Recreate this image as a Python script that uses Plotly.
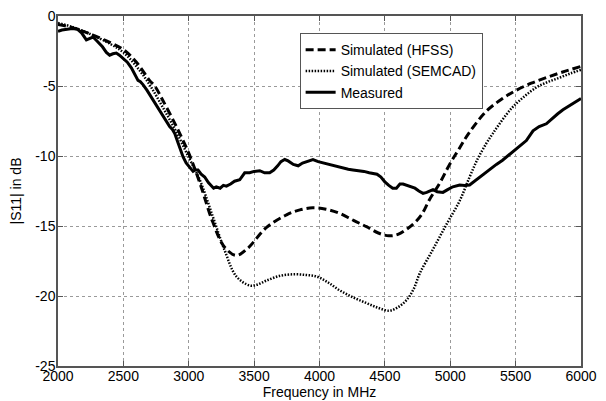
import plotly.graph_objects as go

# Simulated (HFSS)
hfss_f = [2000, 2100, 2250, 2400, 2500, 2600, 2700, 2740, 2800, 2900, 3000, 3084, 3183, 3273, 3364, 3450,
          3595, 3748, 3850, 3948, 4050, 4155, 4260, 4360, 4450, 4530, 4600, 4712, 4780, 4842, 4919, 4995,
          5060, 5140, 5276, 5400, 5506, 5620, 5735, 5860, 6000]
hfss_db = [-0.6, -0.8, -1.3, -1.9, -2.4, -3.3, -4.6, -5.0, -6.0, -7.8, -9.8, -11.9, -14.7, -16.5, -17.1, -16.6,
           -15.1, -14.2, -13.85, -13.7, -13.8, -14.1, -14.6, -15.05, -15.5, -15.7, -15.6, -14.9, -14.2, -13.1, -11.95, -10.6,
           -9.6, -8.4, -6.8, -5.9, -5.3, -4.8, -4.4, -4.0, -3.6]

# Simulated (SEMCAD)
semcad_f = [2000, 2100, 2250, 2400, 2500, 2600, 2700, 2800, 2900, 3000, 3084, 3183, 3273, 3364, 3466, 3520,
            3594, 3700, 3810, 3900, 3976, 4060, 4155, 4258, 4358, 4450, 4536, 4600, 4665, 4720, 4766, 4866,
            4970, 5072, 5148, 5210, 5276, 5325, 5400, 5478, 5560, 5659, 5750, 5837, 5920, 6000]
semcad_db = [-0.5, -0.75, -1.3, -2.0, -2.6, -3.6, -4.9, -6.5, -8.2, -10.1, -11.7, -14.3, -16.7, -18.6, -19.25, -19.2,
             -18.9, -18.55, -18.45, -18.5, -18.6, -19.0, -19.6, -20.1, -20.5, -20.85, -21.05, -20.8, -20.3, -19.5, -18.4, -16.7,
             -14.9, -13.2, -11.5, -10.2, -9.1, -8.4, -7.4, -6.5, -5.8, -5.1, -4.7, -4.4, -4.1, -3.85]

# Measured
meas_f = [2000, 2030, 2070, 2110, 2150, 2180, 2217, 2245, 2268, 2300, 2340, 2370, 2395, 2420, 2446, 2470,
          2497, 2530, 2561, 2590, 2612, 2630, 2650, 2680, 2714, 2750, 2790, 2820, 2854, 2875, 2893, 2920,
          2956, 2980, 3007, 3033, 3050, 3071, 3095, 3122, 3150, 3173, 3190, 3211, 3240, 3265, 3288, 3320,
          3350, 3390, 3428, 3466, 3500, 3543, 3580, 3619, 3650, 3680, 3705, 3734, 3760, 3800, 3837, 3870,
          3910, 3950, 3990, 4030, 4070, 4103, 4140, 4180, 4220, 4256, 4300, 4340, 4380, 4409, 4440, 4470,
          4500, 4530, 4560, 4588, 4615, 4639, 4670, 4700, 4730, 4760, 4792, 4820, 4850, 4868, 4900, 4944,
          4980, 5020, 5072, 5110, 5148, 5185, 5225, 5270, 5310, 5353, 5400, 5440, 5480, 5530, 5582, 5633,
          5680, 5735, 5780, 5820, 5862, 5910, 5950, 6000]
meas_db = [-1.1, -1.0, -0.95, -0.9, -0.95, -1.2, -1.7, -1.6, -1.5, -1.8, -2.2, -2.6, -2.8, -2.7, -2.65, -2.8,
           -3.0, -3.3, -3.7, -4.2, -4.6, -4.7, -4.9, -5.3, -5.8, -6.3, -6.9, -7.4, -7.9, -8.1, -8.4, -9.1,
           -10.05, -10.5, -10.8, -11.1, -11.0, -11.0, -11.3, -11.5, -11.9, -12.1, -12.3, -12.2, -12.3, -12.1, -12.15, -12.0,
           -11.8, -11.7, -11.2, -11.2, -11.1, -11.05, -11.2, -11.2, -11.0, -10.7, -10.4, -10.25, -10.35, -10.6, -10.7, -10.5,
           -10.35, -10.25, -10.4, -10.5, -10.55, -10.65, -10.75, -10.85, -10.95, -11.0, -11.05, -11.1, -11.2, -11.25, -11.3, -11.5,
           -11.85, -12.1, -12.3, -12.3, -12.0, -12.0, -12.1, -12.2, -12.3, -12.5, -12.67, -12.6, -12.45, -12.4, -12.55, -12.6,
           -12.4, -12.2, -12.07, -12.1, -12.07, -11.8, -11.5, -11.2, -10.9, -10.6, -10.3, -10.0, -9.7, -9.3, -8.9, -8.2,
           -7.9, -7.7, -7.3, -7.0, -6.7, -6.4, -6.2, -5.9]

x_ticks = [2000, 2500, 3000, 3500, 4000, 4500, 5000, 5500, 6000]
y_ticks = [0, -5, -10, -15, -20, -25]

FONT = "Liberation Sans, Arial, sans-serif"

fig = go.Figure()
fig.add_trace(go.Scatter(x=hfss_f, y=hfss_db, mode="lines", name="Simulated (HFSS)",
                         line=dict(color="black", width=3, dash="8px,4px"), line_shape="spline"))
fig.add_trace(go.Scatter(x=semcad_f, y=semcad_db, mode="lines", name="Simulated (SEMCAD)",
                         line=dict(color="black", width=2.5, dash="1.5px,1.5px"), line_shape="spline"))
fig.add_trace(go.Scatter(x=meas_f, y=meas_db, mode="lines", name="Measured",
                         line=dict(color="black", width=3)))

axis_common = dict(showgrid=True, gridcolor="#9a9a9a", griddash="dot", gridwidth=1,
                   showline=True, linecolor="#555555", linewidth=1.5, mirror="ticks",
                   ticks="inside", ticklen=5, tickcolor="#555555", zeroline=False,
                   automargin=False, ticklabeloverflow="allow",
                   tickfont=dict(family=FONT, size=14, color="black"))

fig.update_xaxes(range=[2000, 6000], tickvals=x_ticks, ticktext=[str(v) for v in x_ticks],
                 ticklabelstandoff=-4,
                 title=dict(text="Frequency in MHz", font=dict(family=FONT, size=14, color="black"), standoff=4),
                 **axis_common)
fig.update_yaxes(range=[-25, 0], tickvals=y_ticks, ticktext=[str(v) for v in y_ticks],
                 ticklabelstandoff=-2,
                 title=dict(text="|S11| in dB", font=dict(family=FONT, size=14, color="black"), standoff=17),
                 **axis_common)

# the page body adds an 8px margin, so the figure is sized to fit the 606x401 window
fig.update_layout(
    width=598, height=393,
    margin=dict(l=50, r=25, t=8, b=35),
    paper_bgcolor="white", plot_bgcolor="white",
    font=dict(family=FONT, size=14, color="black"),
    showlegend=True,
    legend=dict(x=0.462, y=0.951, xanchor="left", yanchor="top",
                bgcolor="white", bordercolor="#555555", borderwidth=1,
                font=dict(family=FONT, size=14, color="black"),
                tracegroupgap=0, itemwidth=30),
)

fig.write_html("out.html")
